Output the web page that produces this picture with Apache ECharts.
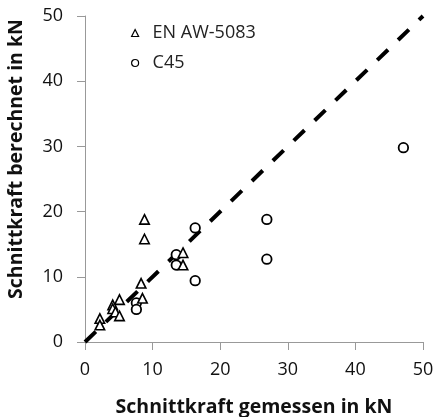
<!DOCTYPE html>
<html><head><meta charset="utf-8">
<script src="https://cdn.jsdelivr.net/npm/echarts@6/dist/echarts.min.js"></script>
<style>html,body{margin:0;padding:0;background:#fff}#c{width:437px;height:417px}</style>
</head><body><div id="c"></div>
<script>
const xTicks = [0, 10, 20, 30, 40, 50];
const alX = [8.8, 8.8, 14.5, 14.5, 8.3, 8.5, 5.1, 4.1, 4.1, 4.5, 5.1, 2.2, 2.2];
const alY = [18.8, 15.8, 13.7, 11.8, 9.0, 6.7, 6.5, 5.7, 5.1, 4.6, 4.0, 3.6, 2.6];
const stX = [16.3, 13.5, 13.5, 16.3, 7.6, 7.6, 26.9, 26.9, 47.1];
const stY = [17.5, 13.4, 11.8, 9.4, 6.0, 5.0, 18.8, 12.7, 29.8];
const refLine = [0, 50];
const names = ['EN AW-5083', 'C45'];

const font = 'Open Sans, Liberation Sans, sans-serif';
const chart = echarts.init(document.getElementById('c'));
chart.setOption({
  animation: false,
  legend: {
    left: 126, top: 18, orient: 'vertical', itemGap: 10,
    itemWidth: 7, itemHeight: 7,
    textStyle: {fontFamily: font, fontSize: 18, color: '#222', lineHeight: 20, padding: [0, 0, 0, 9]},
    data: [
      {name: names[0], icon: 'triangle', itemStyle: {color: '#fff', borderColor: '#000', borderWidth: 1.2}},
      {name: names[1], icon: 'circle', itemStyle: {color: '#fff', borderColor: '#000', borderWidth: 1.2}}
    ]
  },
  grid: {left: 85, right: 14, top: 16, bottom: 75, outerBoundsMode: 'none', containLabel: false},
  xAxis: {
    type: 'value', min: xTicks[0], max: xTicks[xTicks.length - 1], interval: 10,
    name: 'Schnittkraft gemessen in kN', nameLocation: 'middle', nameGap: 55,
    nameTextStyle: {fontFamily: font, fontSize: 19.5, fontWeight: 'bold', color: '#111'},
    axisLine: {lineStyle: {color: '#999'}},
    axisTick: {show: true, length: 8, lineStyle: {color: '#999'}},
    axisLabel: {fontFamily: font, fontSize: 18, color: '#111', margin: 19},
    splitLine: {show: false}
  },
  yAxis: {
    type: 'value', min: 0, max: 50, interval: 10,
    name: 'Schnittkraft berechnet in kN', nameLocation: 'middle', nameGap: 59,
    nameTextStyle: {fontFamily: font, fontSize: 19.5, fontWeight: 'bold', color: '#111', padding: [0, 0, 0, 40]},
    axisLine: {show: true, lineStyle: {color: '#999'}},
    axisTick: {show: true, length: 8, lineStyle: {color: '#999'}},
    axisLabel: {fontFamily: font, fontSize: 18, color: '#111', margin: 22},
    splitLine: {show: false}
  },
  series: [
    {
      type: 'line', data: refLine.map(v => [v, v]), symbol: 'none', silent: true,
      lineStyle: {color: '#000', width: 4, type: [15, 14]}, z: 1
    },
    {
      name: names[0], type: 'scatter', symbol: 'triangle', symbolSize: 9.5,
      data: alX.map((x, i) => [x, alY[i]]),
      itemStyle: {color: '#fff', borderColor: '#000', borderWidth: 1.6, opacity: 1}, z: 3
    },
    {
      name: names[1], type: 'scatter', symbol: 'circle', symbolSize: 9.5,
      data: stX.map((x, i) => [x, stY[i]]),
      itemStyle: {color: '#fff', borderColor: '#000', borderWidth: 1.8, opacity: 1}, z: 2
    }
  ]
});
</script></body></html>
